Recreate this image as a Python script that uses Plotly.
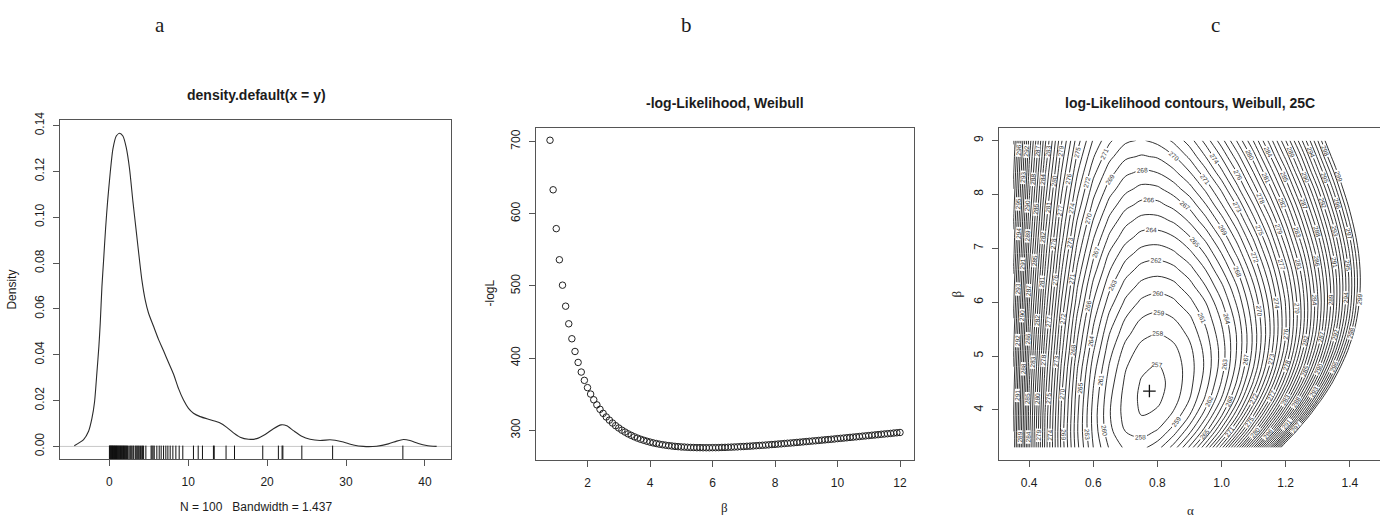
import plotly.graph_objects as go

W, H = 1380, 519

# ---------------- panel a: kernel density of y with rug ----------------
dens_x = [-4.43, -3.25, -2.62, -2.19, -1.86, -1.56, -1.31, -1.14, -0.93, -0.72, -0.46, -0.21,
          0.13, 0.46, 0.89, 1.31, 1.73, 2.15, 2.57, 3.00, 3.42, 3.84, 4.14, 4.56, 4.98, 5.61,
          6.24, 6.88, 7.51, 8.14, 8.78, 9.41, 10.04, 10.67, 11.52, 12.78, 14.05, 14.89, 15.74,
          16.58, 17.64, 18.69, 19.75, 20.80, 21.77, 22.49, 23.33, 24.39, 25.44, 26.71, 27.97,
          28.61, 29.66, 30.93, 32.19, 33.88, 35.36, 36.41, 37.26, 38.10, 39.16, 40.21, 41.48]
dens_y = [0.0003, 0.0030, 0.0066, 0.0123, 0.0195, 0.0324, 0.0438, 0.0538, 0.0696, 0.0810,
          0.0953, 0.1068, 0.1197, 0.1297, 0.1354, 0.1366, 0.1354, 0.1304, 0.1211, 0.1068,
          0.0939, 0.0810, 0.0724, 0.0638, 0.0581, 0.0524, 0.0467, 0.0417, 0.0366, 0.0316,
          0.0252, 0.0202, 0.0166, 0.0145, 0.0130, 0.0116, 0.0102, 0.0083, 0.0059, 0.0040,
          0.0031, 0.0034, 0.0052, 0.0077, 0.0094, 0.0090, 0.0069, 0.0044, 0.0031, 0.0026,
          0.0029, 0.0027, 0.0019, 0.0006, 0.0000, 0.0001, 0.0011, 0.0023, 0.0030, 0.0026,
          0.0013, 0.0004, 0.0000]
rug_x = [0.02, 0.07, 0.12, 0.18, 0.24, 0.30, 0.35, 0.41, 0.47, 0.53, 0.60, 0.66, 0.72, 0.79,
         0.86, 0.92, 0.99, 1.06, 1.13, 1.20, 1.27, 1.34, 1.42, 1.50, 1.57, 1.65, 1.72, 1.80,
         1.88, 1.95, 2.04, 2.12, 2.20, 2.30, 2.40, 2.60, 2.72, 2.85, 3.00, 3.10, 3.30, 3.42,
         3.55, 3.68, 3.80, 3.95, 4.12, 4.20, 4.35, 4.64, 5.30, 5.42, 5.55, 5.70, 6.03, 6.33,
         6.58, 6.88, 7.17, 7.43, 7.72, 8.06, 8.44, 8.86, 9.32, 10.67, 11.27, 11.81, 13.20,
         13.30, 14.80, 15.87, 19.45, 21.43, 21.90, 22.00, 24.40, 28.30, 37.20]
dens_xticks = [0, 10, 20, 30, 40]
dens_yticks = [0.00, 0.02, 0.04, 0.06, 0.08, 0.10, 0.12, 0.14]
dens_yticklabels = ["0.00", "0.02", "0.04", "0.06", "0.08", "0.10", "0.12", "0.14"]

# ---------------- panel b: -log-likelihood against beta ----------------
nll_beta = [0.8, 0.9, 1.0, 1.1, 1.2, 1.3, 1.4, 1.5, 1.6, 1.7, 1.8, 1.9, 2.0, 2.1, 2.2, 2.3,
            2.4, 2.5, 2.6, 2.7, 2.8, 2.9, 3.0, 3.1, 3.2, 3.3, 3.4, 3.5, 3.6, 3.7, 3.8, 3.9,
            4.0, 4.1, 4.2, 4.3, 4.4, 4.5, 4.6, 4.7, 4.8, 4.9, 5.0, 5.1, 5.2, 5.3, 5.4, 5.5,
            5.6, 5.7, 5.8, 5.9, 6.0, 6.1, 6.2, 6.3, 6.4, 6.5, 6.6, 6.7, 6.8, 6.9, 7.0, 7.1,
            7.2, 7.3, 7.4, 7.5, 7.6, 7.7, 7.8, 7.9, 8.0, 8.1, 8.2, 8.3, 8.4, 8.5, 8.6, 8.7,
            8.8, 8.9, 9.0, 9.1, 9.2, 9.3, 9.4, 9.5, 9.6, 9.7, 9.8, 9.9, 10.0, 10.1, 10.2,
            10.3, 10.4, 10.5, 10.6, 10.7, 10.8, 10.9, 11.0, 11.1, 11.2, 11.3, 11.4, 11.5,
            11.6, 11.7, 11.8, 11.9, 12.0]
nll_value = [701.7, 633.1, 579.3, 536.2, 501.0, 471.9, 447.5, 426.8, 409.2, 394.0, 380.7,
             369.2, 359.1, 350.2, 342.3, 335.3, 329.1, 323.5, 318.5, 314.1, 310.1, 306.4,
             303.2, 300.2, 297.6, 295.1, 293.0, 291.0, 289.2, 287.6, 286.2, 284.9, 283.7,
             282.6, 281.7, 280.8, 280.1, 279.4, 278.8, 278.3, 277.8, 277.4, 277.0, 276.8,
             276.5, 276.3, 276.2, 276.0, 276.0, 275.9, 275.9, 275.9, 276.0, 276.0, 276.1,
             276.3, 276.4, 276.6, 276.7, 276.9, 277.1, 277.4, 277.6, 277.9, 278.1, 278.4,
             278.7, 279.0, 279.3, 279.6, 279.9, 280.3, 280.6, 281.0, 281.3, 281.7, 282.1,
             282.4, 282.8, 283.2, 283.6, 284.0, 284.4, 284.8, 285.2, 285.6, 286.0, 286.4,
             286.8, 287.2, 287.6, 288.0, 288.5, 288.9, 289.3, 289.7, 290.2, 290.6, 291.0,
             291.4, 291.9, 292.3, 292.7, 293.2, 293.6, 294.0, 294.5, 294.9, 295.3, 295.7,
             296.2, 296.6, 297.0]
nll_xticks = [2, 4, 6, 8, 10, 12]
nll_yticks = [300, 400, 500, 600, 700]

# ---------------- panel c: -log-likelihood surface over (alpha, beta) ----------------
grid_alpha = [0.35, 0.40, 0.45, 0.50, 0.55, 0.60, 0.65, 0.70, 0.75, 0.80, 0.85, 0.90,
              0.95, 1.00, 1.05, 1.10, 1.15, 1.20, 1.25, 1.30, 1.35, 1.40, 1.45]
grid_beta = [3.3, 3.6, 3.9, 4.2, 4.5, 4.8, 5.1, 5.4, 5.7, 6.0, 6.3, 6.6, 6.9, 7.2, 7.5,
             7.8, 8.1, 8.4, 8.7, 9.0]
grid_nll = [
    [292.9, 283.3, 275.7, 269.8, 265.3, 262.0, 259.9, 258.8, 258.7, 259.6, 261.4, 264.2, 267.9, 272.6, 278.3, 285.0, 292.8, 301.8, 312.1, 323.6, 336.6, 351.1, 367.3],
    [293.0, 283.4, 275.8, 269.7, 265.1, 261.7, 259.3, 258.0, 257.6, 258.1, 259.5, 261.7, 264.7, 268.6, 273.4, 279.1, 285.8, 293.4, 302.1, 311.9, 322.9, 335.1, 348.8],
    [293.2, 283.6, 275.9, 269.9, 265.2, 261.6, 259.1, 257.6, 257.0, 257.2, 258.2, 260.0, 262.6, 265.9, 270.0, 275.0, 280.7, 287.3, 294.8, 303.3, 312.7, 323.3, 334.9],
    [293.4, 283.8, 276.2, 270.1, 265.4, 261.8, 259.2, 257.6, 256.8, 256.8, 257.5, 259.0, 261.2, 264.1, 267.7, 272.1, 277.1, 282.9, 289.5, 297.0, 305.3, 314.5, 324.6],
    [293.7, 284.1, 276.5, 270.5, 265.7, 262.1, 259.5, 257.8, 256.9, 256.7, 257.3, 258.6, 260.5, 263.1, 266.3, 270.2, 274.7, 279.9, 285.8, 292.4, 299.8, 308.0, 317.0],
    [294.0, 284.5, 276.9, 270.9, 266.1, 262.5, 259.9, 258.1, 257.2, 256.9, 257.4, 258.5, 260.2, 262.5, 265.5, 269.0, 273.1, 277.9, 283.2, 289.2, 295.9, 303.3, 311.4],
    [294.3, 284.9, 277.3, 271.4, 266.7, 263.1, 260.4, 258.6, 257.6, 257.4, 257.7, 258.7, 260.3, 262.4, 265.2, 268.4, 272.3, 276.6, 281.6, 287.1, 293.2, 299.9, 307.3],
    [294.6, 285.3, 277.8, 271.9, 267.2, 263.7, 261.0, 259.3, 258.3, 257.9, 258.3, 259.2, 260.7, 262.7, 265.2, 268.3, 271.9, 276.0, 280.6, 285.7, 291.4, 297.6, 304.4],
    [295.0, 285.7, 278.3, 272.4, 267.8, 264.3, 261.7, 260.0, 259.0, 258.7, 259.0, 259.8, 261.3, 263.2, 265.6, 268.6, 272.0, 275.9, 280.2, 285.1, 290.4, 296.2, 302.6],
    [295.4, 286.1, 278.8, 273.0, 268.5, 265.0, 262.5, 260.8, 259.8, 259.5, 259.8, 260.7, 262.0, 263.9, 266.3, 269.1, 272.4, 276.1, 280.3, 284.9, 290.0, 295.5, 301.5],
    [295.7, 286.6, 279.3, 273.6, 269.1, 265.7, 263.3, 261.6, 260.7, 260.4, 260.7, 261.6, 263.0, 264.8, 267.1, 269.9, 273.1, 276.7, 280.7, 285.2, 290.0, 295.3, 301.0],
    [296.1, 287.0, 279.9, 274.2, 269.8, 266.5, 264.1, 262.5, 261.6, 261.4, 261.7, 262.6, 264.0, 265.9, 268.1, 270.9, 274.0, 277.5, 281.4, 285.8, 290.4, 295.5, 301.0],
    [296.5, 287.5, 280.4, 274.8, 270.5, 267.3, 264.9, 263.4, 262.6, 262.4, 262.8, 263.7, 265.1, 267.0, 269.3, 272.0, 275.1, 278.6, 282.4, 286.6, 291.2, 296.1, 301.4],
    [296.8, 288.0, 280.9, 275.5, 271.2, 268.1, 265.8, 264.4, 263.6, 263.5, 263.9, 264.9, 266.3, 268.2, 270.5, 273.2, 276.3, 279.8, 283.6, 287.7, 292.2, 297.0, 302.2],
    [297.2, 288.4, 281.5, 276.1, 271.9, 268.9, 266.7, 265.3, 264.6, 264.6, 265.1, 266.1, 267.6, 269.5, 271.8, 274.6, 277.6, 281.1, 284.9, 289.0, 293.4, 298.2, 303.2],
    [297.6, 288.9, 282.0, 276.7, 272.7, 269.7, 267.6, 266.3, 265.7, 265.7, 266.3, 267.3, 268.9, 270.9, 273.2, 276.0, 279.1, 282.5, 286.3, 290.4, 294.8, 299.5, 304.5],
    [298.0, 289.3, 282.6, 277.3, 273.4, 270.5, 268.5, 267.3, 266.7, 266.8, 267.5, 268.6, 270.2, 272.2, 274.7, 277.5, 280.6, 284.1, 287.8, 291.9, 296.3, 301.0, 305.9],
    [298.3, 289.8, 283.1, 278.0, 274.1, 271.3, 269.4, 268.2, 267.8, 268.0, 268.7, 269.9, 271.6, 273.7, 276.1, 279.0, 282.2, 285.6, 289.5, 293.6, 297.9, 302.6, 307.5],
    [298.7, 290.2, 283.7, 278.6, 274.8, 272.1, 270.3, 269.2, 268.9, 269.1, 269.9, 271.2, 273.0, 275.1, 277.6, 280.5, 283.8, 287.3, 291.1, 295.3, 299.7, 304.3, 309.3],
    [299.1, 290.7, 284.2, 279.2, 275.5, 272.9, 271.2, 270.2, 269.9, 270.3, 271.2, 272.5, 274.4, 276.6, 279.2, 282.1, 285.4, 289.0, 292.9, 297.0, 301.5, 306.1, 311.1],
]
contour_levels = dict(start=257, end=299, size=1)
mle_alpha = [0.775]
mle_beta = [4.35]
surf_xticks = [0.4, 0.6, 0.8, 1.0, 1.2, 1.4]
surf_xticklabels = ["0.4", "0.6", "0.8", "1.0", "1.2", "1.4"]
surf_yticks = [4, 5, 6, 7, 8, 9]

# ---------------- styling ----------------
SANS = "Liberation Sans, Arial, Helvetica, sans-serif"
SERIF = "Liberation Serif, Times New Roman, serif"
INK = "#1c1c1c"
FRAME = "#555555"


def px(x):
    return x / W


def py(y):
    return 1 - y / H


fig = go.Figure()

# panel a
fig.add_trace(go.Scatter(x=dens_x, y=dens_y, mode="lines",
                         line=dict(color="#2b2b2b", width=1.1, shape="spline", smoothing=0.6),
                         xaxis="x", yaxis="y", hoverinfo="skip"))
fig.add_trace(go.Scatter(x=rug_x, y=[-0.003] * len(rug_x), mode="markers",
                         marker=dict(symbol="line-ns-open", size=11, color="#111111",
                                     line=dict(color="#111111", width=1)),
                         xaxis="x", yaxis="y", hoverinfo="skip"))

# panel b
fig.add_trace(go.Scatter(x=nll_beta, y=nll_value, mode="markers",
                         marker=dict(symbol="circle-open", size=6.5, color="#222222",
                                     line=dict(color="#222222", width=1)),
                         xaxis="x2", yaxis="y2", hoverinfo="skip"))

# panel c
fig.add_trace(go.Contour(x=grid_alpha, y=grid_beta, z=grid_nll,
                         autocontour=False,
                         contours=dict(coloring="lines", showlabels=True,
                                       labelfont=dict(size=6.5, color="#333333", family=SANS),
                                       labelformat=".0f", **contour_levels),
                         line=dict(width=0.9, smoothing=1.0),
                         colorscale=[[0, "#1a1a1a"], [1, "#1a1a1a"]], showscale=False,
                         xaxis="x3", yaxis="y3", hoverinfo="skip"))
fig.add_trace(go.Scatter(x=mle_alpha, y=mle_beta, mode="markers",
                         marker=dict(symbol="cross-thin-open", size=9, color="#111111",
                                     line=dict(color="#111111", width=1.3)),
                         xaxis="x3", yaxis="y3", hoverinfo="skip"))

tickfont = dict(family=SANS, size=12, color=INK)


def xax(domain, rng, tickvals, ticktext=None, anchor="y", mirror=True):
    d = dict(domain=domain, range=rng, tickvals=tickvals, ticks="outside", ticklen=6,
             tickcolor=FRAME, tickwidth=1, showline=True, linecolor=FRAME, linewidth=1,
             mirror=mirror, showgrid=False, zeroline=False, tickfont=tickfont,
             ticklabelstandoff=6, anchor=anchor)
    if ticktext is not None:
        d["ticktext"] = ticktext
    return d


def yax(domain, rng, tickvals, ticktext=None, anchor="x", mirror=True):
    d = dict(domain=domain, range=rng, tickvals=tickvals, ticks="outside", ticklen=6,
             tickcolor=FRAME, tickwidth=1, showline=True, linecolor=FRAME, linewidth=1,
             mirror=mirror, showgrid=False, zeroline=False, tickfont=tickfont,
             tickangle=-90, ticklabelstandoff=4, anchor=anchor)
    if ticktext is not None:
        d["ticktext"] = ticktext
    return d


layout = dict(
    width=W, height=H, margin=dict(l=0, r=0, t=0, b=0),
    paper_bgcolor="white", plot_bgcolor="white", showlegend=False,
    xaxis=xax([px(60), px(451)], [-6.24, 43.3], dens_xticks, anchor="y"),
    yaxis=yax([py(458), py(114)], [-0.00546, 0.14228], dens_yticks, dens_yticklabels, anchor="x"),
    xaxis2=xax([px(536), px(914)], [0.352, 12.448], nll_xticks, anchor="y2"),
    yaxis2=yax([py(459), py(122)], [259.0, 718.5], nll_yticks, anchor="x2"),
    xaxis3=xax([px(999), 1.0], [0.306, 1.494], surf_xticks, surf_xticklabels, anchor="y3"),
    yaxis3=yax([py(459), py(122)], [3.072, 9.228], surf_yticks, anchor="x3", mirror=False),
)
fig.update_layout(**layout)

# zero line under the density curve
fig.add_shape(type="line", xref="x domain", yref="y", x0=0, x1=1, y0=0, y1=0,
              line=dict(color="#c8c8c8", width=1), layer="below")


def note(text, x, y, size=12, bold=False, family=SANS, angle=0):
    if bold:
        text = f"<b>{text}</b>"
    fig.add_annotation(text=text, x=px(x), y=py(y), xref="paper", yref="paper",
                       showarrow=False, xanchor="center", yanchor="middle", textangle=angle,
                       font=dict(family=family, size=size, color=INK))


# panel letters
note("a", 160, 17, size=21, family=SERIF)
note("b", 686, 17, size=21, family=SERIF)
note("c", 1215, 17, size=21, family=SERIF)

# titles
note("density.default(x = y)", 256, 88, size=14, bold=True)
note("-log-Likelihood, Weibull", 725, 96, size=14, bold=True)
note("log-Likelihood contours, Weibull, 25C", 1190, 96, size=14, bold=True)

# axis titles
note("Density", 12, 286, angle=-90)
note("N = 100\u00a0\u00a0 Bandwidth = 1.437", 256, 507)
note("-logL", 490, 290, angle=-90)
note("\u03b2", 724, 507, size=13, family=SERIF)
note("\u03b2", 957, 291, size=13, family=SERIF, angle=-90)
note("\u03b1", 1190, 510, size=13, family=SERIF)

fig.write_html("out.html")
